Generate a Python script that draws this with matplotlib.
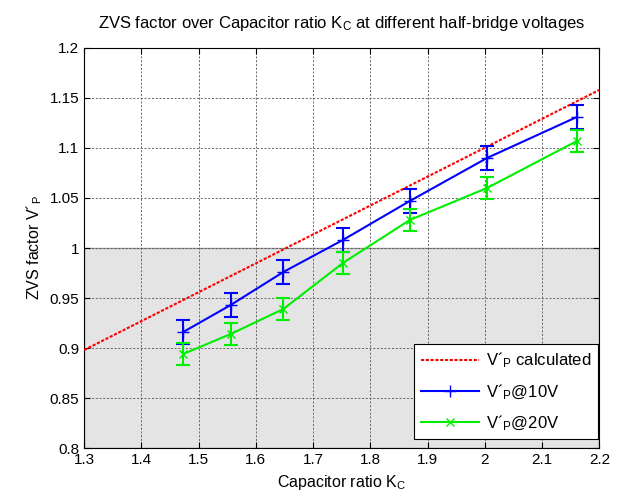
import numpy as np
import matplotlib.pyplot as plt
from matplotlib.lines import Line2D

plt.rcParams['font.family'] = ['Liberation Sans', 'DejaVu Sans']
plt.rcParams['mathtext.fontset'] = 'custom'
plt.rcParams['mathtext.rm'] = 'Liberation Sans'
plt.rcParams['mathtext.it'] = 'Liberation Sans'

# data
kc = [1.473, 1.556, 1.648, 1.752, 1.869, 2.004, 2.161]
vp_10v = [0.916, 0.943, 0.976, 1.008, 1.047, 1.090, 1.131]
vp_20v = [0.894, 0.914, 0.939, 0.985, 1.028, 1.060, 1.107]
err_10v = [0.012, 0.012, 0.012, 0.012, 0.012, 0.012, 0.012]
err_20v = [0.011, 0.011, 0.011, 0.011, 0.011, 0.011, 0.011]
kc_calc = [1.3, 2.2]
vp_calc = [0.898, 1.158]

fig = plt.figure(figsize=(6.23, 4.99), dpi=100)
ax = fig.add_axes([0.135, 0.102, 0.827, 0.802])

# grey region below 1
ax.axhspan(0.8, 1.0, facecolor='#e4e4e4', edgecolor='#a0a0a0', linewidth=1, zorder=0)

ax.plot(kc_calc, vp_calc, color='red', linestyle=(0, (1.5, 0.8)), linewidth=1.5, zorder=3)
ax.errorbar(kc, vp_10v, yerr=err_10v, color='blue', marker='+', markersize=8,
            linewidth=1.5, capsize=5, capthick=1.5, zorder=4)
ax.errorbar(kc, vp_20v, yerr=err_20v, color='#00ee00', marker='x', markersize=6,
            linewidth=1.5, capsize=5, capthick=1.5, zorder=4)

ax.set_xlim(1.3, 2.2)
ax.set_ylim(0.8, 1.2)
ax.set_xticks(np.arange(1.3, 2.21, 0.1))
ax.set_xticklabels(['1.3', '1.4', '1.5', '1.6', '1.7', '1.8', '1.9', '2', '2.1', '2.2'])
ax.set_yticks(np.arange(0.8, 1.201, 0.05))
ax.set_yticklabels(['0.8', '0.85', '0.9', '0.95', '1', '1.05', '1.1', '1.15', '1.2'])
ax.grid(True, color='#555555', linestyle=(0, (2.5, 2)), linewidth=0.6)
ax.set_axisbelow(True)
ax.tick_params(direction='in', top=True, right=True, labelsize=11, length=4)

ax.set_xlabel('Capacitor ratio K$_\\mathrm{C}$', fontsize=11.5)
ax.set_ylabel('ZVS factor V´$_\\mathrm{P}$', fontsize=11.5)
ax.set_title('ZVS factor over Capacitor ratio K$_\\mathrm{C}$ at different half-bridge voltages',
             fontsize=12, pad=14)

handles = [
    Line2D([], [], color='red', linestyle=(0, (1.5, 0.8)), linewidth=1.5),
    Line2D([], [], color='blue', marker='+', markersize=8, linewidth=1.5),
    Line2D([], [], color='#00ee00', marker='x', markersize=6, linewidth=1.5),
]
labels = ['V´$_\\mathrm{P}$ calculated', 'V´$_\\mathrm{P}$@10V', 'V´$_\\mathrm{P}$@20V']
leg = ax.legend(handles, labels, loc='lower right', bbox_to_anchor=(0.997, 0.022),
                fontsize=12, fancybox=False, framealpha=1, edgecolor='black',
                borderaxespad=0, handlelength=3.5, labelspacing=0.7, handletextpad=0.4)
leg.get_frame().set_linewidth(0.8)

fig.savefig('out.png', dpi=100)
